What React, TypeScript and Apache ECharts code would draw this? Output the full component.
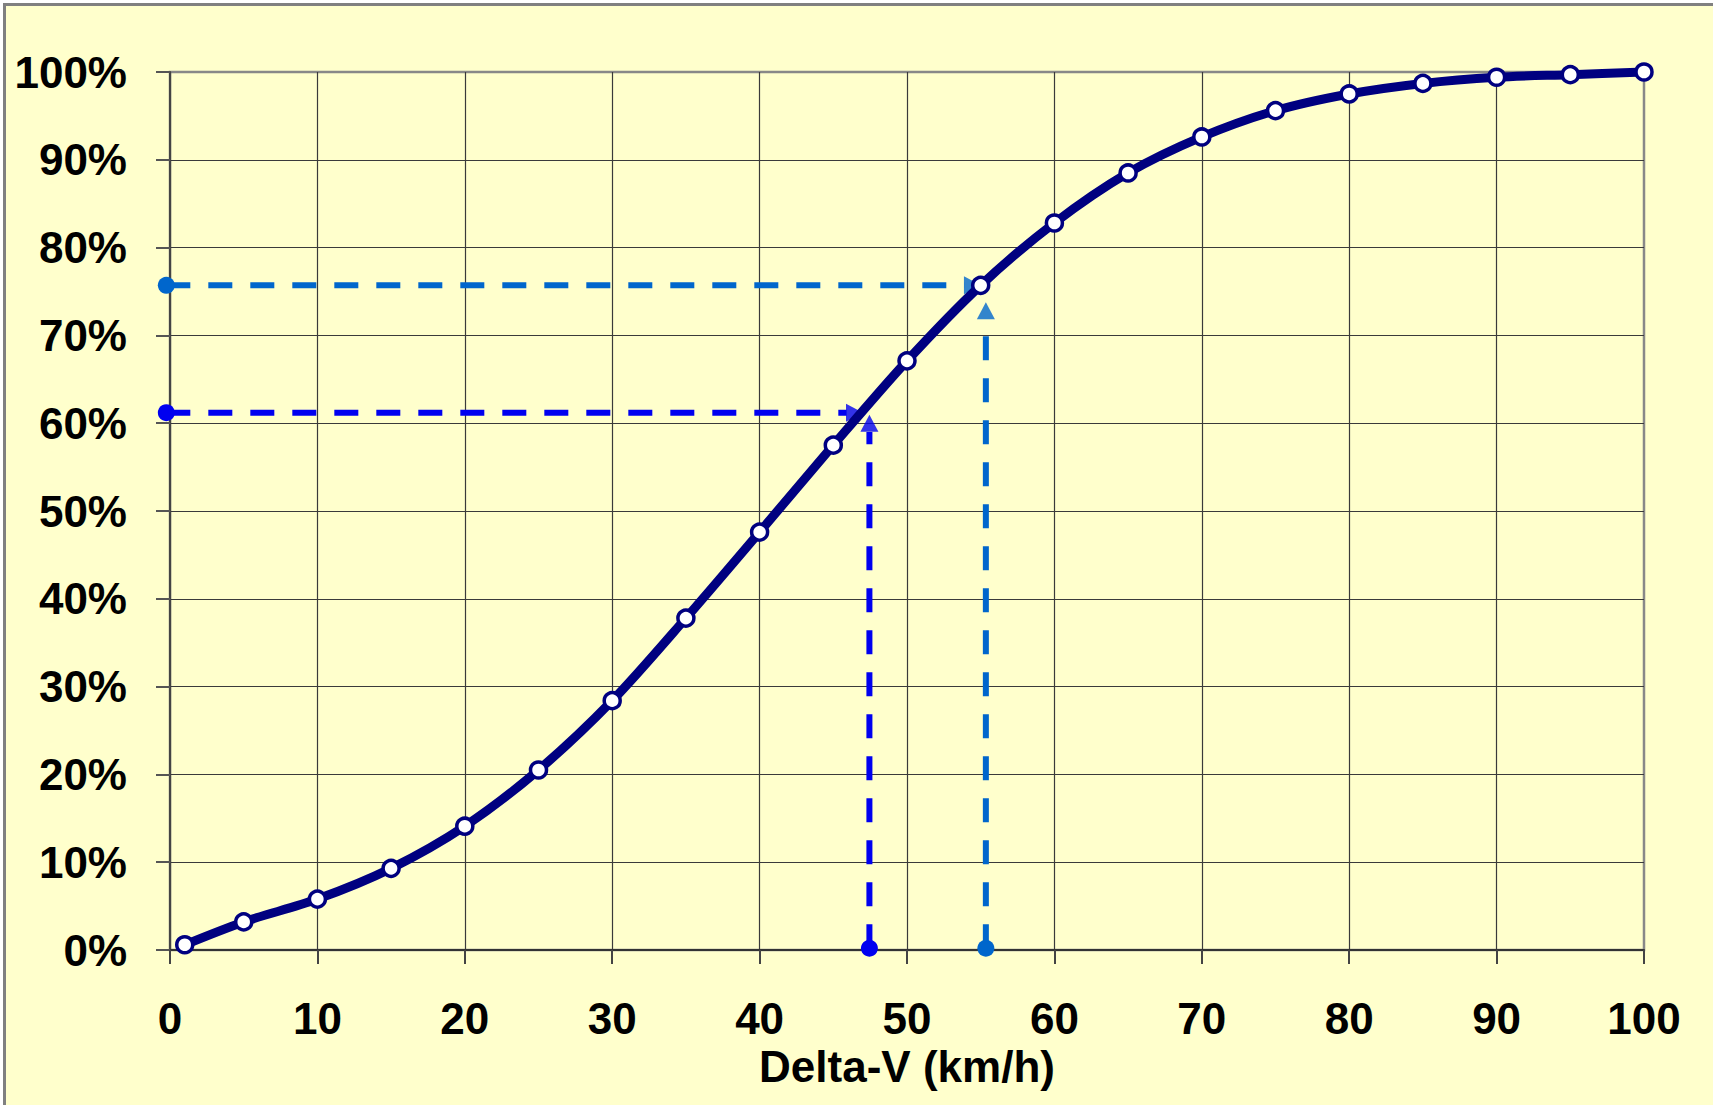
import React, { useEffect, useRef } from "react";
import * as echarts from "echarts";

// Delta-V (km/h) and cumulative share (%)
const deltaV = [1, 5, 10, 15, 20, 25, 30, 35, 40, 45, 50, 55, 60, 65, 70, 75, 80, 85, 90, 95, 100];
const cumulative = [0.6, 3.2, 5.8, 9.3, 14.1, 20.5, 28.4, 37.8, 47.6, 57.5, 67.1, 75.7, 82.8, 88.5, 92.6, 95.6, 97.5, 98.7, 99.4, 99.7, 100];

const xTicks = [0, 10, 20, 30, 40, 50, 60, 70, 80, 90, 100];
const yTickPct = [0, 10, 20, 30, 40, 50, 60, 70, 80, 90, 100];

// Reading guides: [start, end] points of dashed arrows
const guideA_h = [[-0.25, 61.2], [45.9, 61.2]];
const guideA_v = [[47.45, 0.2], [47.45, 59.0]];
const guideB_h = [[-0.25, 75.7], [53.9, 75.7]];
const guideB_v = [[55.35, 0.2], [55.35, 71.9]];
// arrowhead centres and rotation
const arrowsA = [[46.44, 61.2, -90], [47.45, 60.0, 0]];
const arrowsB = [[54.44, 75.7, -90], [55.35, 72.8, 0]];

const colA = "#0000F0";
const colB = "#0066CC";
const navy = "#000080";
const font = "'Liberation Sans', Arial, sans-serif";

function guide(pts: number[][], color: string) {
  return {
    type: "line",
    clip: false,
    z: 3,
    silent: true,
    data: [
      { value: pts[0], symbol: "circle", symbolSize: 17 },
      { value: pts[1], symbol: "none" },
    ],
    showSymbol: true,
    lineStyle: { color, width: 6, type: [24, 18] },
    itemStyle: { color },
  };
}

function arrows(list: number[][], color: string) {
  return {
    type: "scatter",
    clip: false,
    z: 3,
    silent: true,
    symbol: "triangle",
    symbolSize: [18, 17],
    itemStyle: { color },
    data: list.map((a) => ({ value: [a[0], a[1]], symbolRotate: a[2] })),
  };
}

export default function App() {
  const ref = useRef<HTMLDivElement>(null);
  useEffect(() => {
    if (!ref.current) return;
    const chart = echarts.init(ref.current, undefined, { renderer: "svg" });
    chart.setOption({
      animation: false,
      backgroundColor: "#FFFFCC",
      grid: {
        left: 164,
        top: 66,
        width: 1474,
        height: 878,
        show: true,
        borderColor: "#888888",
        borderWidth: 2.5,
        backgroundColor: "transparent",
      },
      xAxis: {
        type: "value",
        min: xTicks[0],
        max: xTicks[xTicks.length - 1],
        interval: 10,
        name: "Delta-V (km/h)",
        nameLocation: "middle",
        nameGap: 90,
        nameTextStyle: { fontFamily: font, fontWeight: "bold", fontSize: 44, color: "#000" },
        axisLine: { show: true, onZero: false, lineStyle: { color: "#333", width: 2 } },
        axisTick: { show: true, length: 14, lineStyle: { color: "#444", width: 2 } },
        axisLabel: { margin: 46, fontFamily: font, fontWeight: "bold", fontSize: 44, color: "#000" },
        splitLine: { show: true, showMaxLine: false, lineStyle: { color: "#3a3a3a", width: 1.2 } },
      },
      yAxis: {
        type: "value",
        min: yTickPct[0],
        max: yTickPct[yTickPct.length - 1],
        interval: 10,
        axisLine: { show: true, onZero: false, lineStyle: { color: "#444", width: 2 } },
        axisTick: { show: true, length: 14, lineStyle: { color: "#555", width: 2 } },
        axisLabel: {
          margin: 43,
          formatter: "{value}%",
          fontFamily: font,
          fontWeight: "bold",
          fontSize: 44,
          color: "#000",
        },
        splitLine: { show: true, showMaxLine: false, lineStyle: { color: "#3a3a3a", width: 1.2 } },
      },
      series: [
        guide(guideA_h, colA),
        guide(guideA_v, colA),
        guide(guideB_h, colB),
        guide(guideB_v, colB),
        arrows(arrowsA, colA),
        arrows(arrowsB, colB),
        {
          type: "line",
          z: 5,
          clip: false,
          smooth: 0.3,
          data: deltaV.map((v, i) => [v, cumulative[i]]),
          symbol: "circle",
          symbolSize: 16,
          showSymbol: true,
          lineStyle: { color: navy, width: 9 },
          itemStyle: { color: "#ffffff", borderColor: navy, borderWidth: 3.5 },
        },
      ],
    });
    return () => chart.dispose();
  }, []);
  return (
    <div style={{ position: "fixed", left: 0, top: 0, width: 1713, height: 1105, background: "#ffffff" }}>
      <div
        style={{
          position: "absolute",
          left: 3,
          top: 3,
          width: 1710,
          height: 1102,
          boxSizing: "border-box",
          borderLeft: "3px solid #808080",
          borderTop: "3px solid #808080",
          background: "#FFFFCC",
        }}
      >
        <div ref={ref} style={{ width: 1707, height: 1099 }} />
      </div>
    </div>
  );
}
